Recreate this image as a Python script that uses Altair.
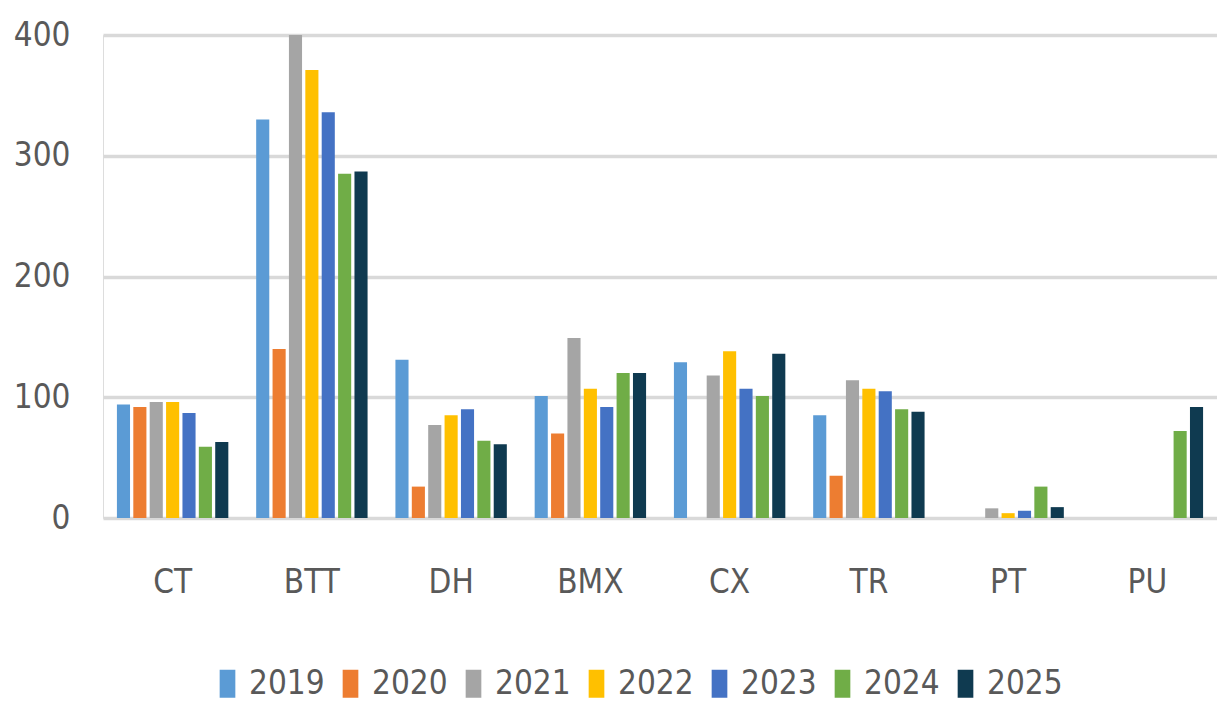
import altair as alt
import pandas as pd

categories = ["CT", "BTT", "DH", "BMX", "CX", "TR", "PT", "PU"]
years = ["2019", "2020", "2021", "2022", "2023", "2024", "2025"]
colors = ["#5B9BD5", "#ED7D31", "#A5A5A5", "#FFC000", "#4472C4", "#70AD47", "#0F3A50"]

v2019 = [94, 330, 131, 101, 129, 85, None, None]
v2020 = [92, 140, 26, 70, None, 35, None, None]
v2021 = [96, 400, 77, 149, 118, 114, 8, None]
v2022 = [96, 371, 85, 107, 138, 107, 4, None]
v2023 = [87, 336, 90, 92, 107, 105, 6, None]
v2024 = [59, 285, 64, 120, 101, 90, 26, 72]
v2025 = [63, 287, 61, 120, 136, 88, 9, 92]

series = [v2019, v2020, v2021, v2022, v2023, v2024, v2025]
rows = []
for y, vals in zip(years, series):
    for c, v in zip(categories, vals):
        rows.append({"cat": c, "year": y, "value": v})
df = pd.DataFrame(rows)

FONT = "Liberation Sans Narrow, DejaVu Sans Condensed, sans-serif"
TXT = "#595959"
FS = 33

chart = alt.Chart(df).mark_bar(clip=True).encode(
    x=alt.X("cat:N", sort=categories, title=None,
            scale=alt.Scale(paddingInner=0.2, paddingOuter=0.1),
            axis=alt.Axis(labelAngle=0, labelFont=FONT, labelFontSize=FS,
                          labelColor=TXT, labelPadding=48, ticks=False,
                          domain=False, grid=False)),
    xOffset=alt.XOffset("year:N", sort=years,
                        scale=alt.Scale(paddingInner=0.2, paddingOuter=0)),
    y=alt.Y("value:Q", title=None,
            scale=alt.Scale(domain=[0, 400], nice=False),
            axis=alt.Axis(values=[0, 100, 200, 300, 400], labelFont=FONT,
                          labelFontSize=FS, labelColor=TXT, labelPadding=33,
                          ticks=False, domain=False, gridColor="#D9D9D9",
                          gridWidth=3.5)),
    color=alt.Color("year:N", sort=years, title=None,
                    scale=alt.Scale(domain=years, range=colors),
                    legend=alt.Legend(orient="none", direction="horizontal",
                                      legendX=108, legendY=632, columns=7,
                                      symbolType="M-0.56,-1H0.56V1H-0.56Z",
                                      symbolSize=784, symbolStrokeWidth=0,
                                      labelFont=FONT, labelFontSize=FS,
                                      labelColor=TXT, labelOffset=5,
                                      columnPadding=9)),
).properties(
    width=1114, height=483,
    autosize=alt.AutoSizeParams(type="none"),
    padding={"left": 95, "top": 27, "right": 0, "bottom": 184},
).configure_view(stroke=None).configure(background="white")

chart.save("out.html", embed_options={"renderer": "svg", "actions": False})
